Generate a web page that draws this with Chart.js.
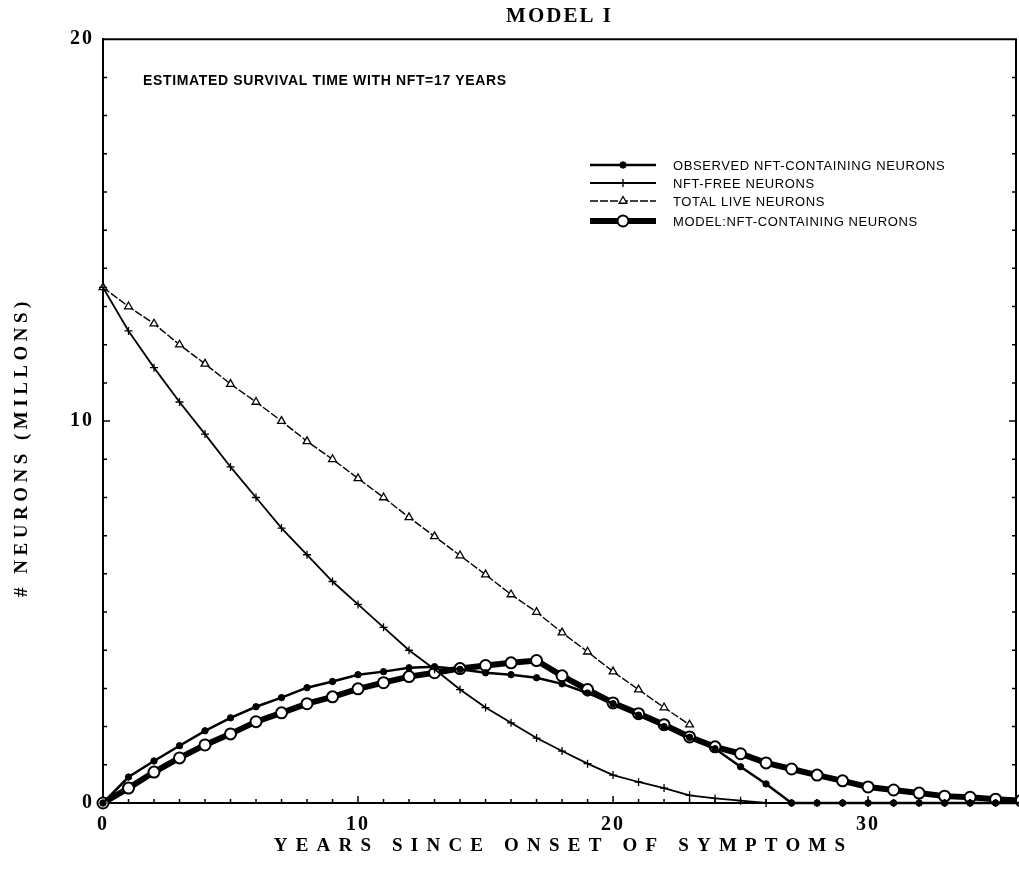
<!DOCTYPE html>
<html>
<head>
<meta charset="utf-8">
<script src="https://cdn.jsdelivr.net/npm/chart.js@4.4.0/dist/chart.umd.min.js"></script>
<style>
body{margin:0;background:#fff;}
#wrap{width:1019px;height:878px;position:relative;}
</style>
</head>
<body>
<div id="wrap"><canvas id="modelChart"></canvas></div>
<script>
// =========================
// DATA
// =========================

const years = [0,1,2,3,4,5,6,7,8,9,10,11,12,13,14,15,16,17,18,19,20,21,22,23,24,25,26,27,28,29,30,31,32,33,34,35,36];

const observedNFT = [0,0.68,1.1,1.5,1.89,2.23,2.52,2.76,3.02,3.18,3.36,3.44,3.54,3.57,3.5,3.41,3.36,3.28,3.12,2.88,2.6,2.3,2.0,1.72,1.42,0.95,0.5,0,0,0,0,0,0,0,0,0,0];

const nftFree = [13.5,12.36,11.4,10.5,9.66,8.8,8.0,7.2,6.5,5.8,5.2,4.6,4.0,3.5,2.97,2.5,2.1,1.7,1.36,1.03,0.73,0.55,0.39,0.2,0.12,0.06,0,0,0,0,0,0,0,0,0,0,0];

const totalLive = [13.5,13.0,12.55,12.0,11.5,10.97,10.5,10.0,9.47,9.0,8.5,8.0,7.48,6.98,6.48,5.98,5.46,5.0,4.46,3.96,3.44,2.97,2.5,2.05];

const modelNFT = [0,0.39,0.81,1.18,1.52,1.81,2.13,2.36,2.6,2.78,2.99,3.15,3.31,3.41,3.52,3.6,3.67,3.73,3.33,2.97,2.62,2.34,2.05,1.73,1.47,1.29,1.05,0.89,0.73,0.58,0.42,0.34,0.26,0.18,0.15,0.1,0.06];

const xTicks = [0,10,20,30];
const yTicks = [0,10,20];

const seriesLabels = [
    "OBSERVED NFT-CONTAINING NEURONS",
    "NFT-FREE NEURONS",
    "TOTAL LIVE NEURONS",
    "MODEL:NFT-CONTAINING NEURONS"
];

const noteText = "ESTIMATED SURVIVAL TIME WITH NFT=17 YEARS";

const toPoints = arr => arr.map((v,i) => ({x:years[i], y:v}));

const serif = "'Liberation Serif','Times New Roman',serif";
const sans = "'Liberation Sans',Arial,sans-serif";

// =========================
// PLUGIN: frame, inner ticks, legend, texts
// =========================

const decorPlugin = {
    id:"decor",
    beforeDraw(chart){
        chart.ctx.letterSpacing = "2px";
    },
    afterDraw(chart){
        const ctx = chart.ctx;
        const a = chart.chartArea;
        const xs = chart.scales.x;
        const ys = chart.scales.y;

        ctx.save();
        ctx.strokeStyle = "#000";
        ctx.lineWidth = 2;
        ctx.beginPath();
        ctx.moveTo(a.left, a.top);
        ctx.lineTo(a.right, a.top);
        ctx.lineTo(a.right, a.bottom);
        ctx.stroke();

        ctx.lineWidth = 1.5;
        for(let v = 1; v < 20; v++){
            const y = ys.getPixelForValue(v);
            const len = v % 10 === 0 ? 7 : 4;
            ctx.beginPath();
            ctx.moveTo(a.left, y); ctx.lineTo(a.left + len, y);
            ctx.moveTo(a.right, y); ctx.lineTo(a.right - len, y);
            ctx.stroke();
        }
        for(let v = 1; v <= 35; v++){
            const x = xs.getPixelForValue(v);
            const len = v % 10 === 0 ? 7 : 4;
            ctx.beginPath();
            ctx.moveTo(x, a.bottom); ctx.lineTo(x, a.bottom - len);
            ctx.stroke();
        }

        // axis titles
        ctx.fillStyle = "#000";
        ctx.textAlign = "center";
        ctx.textBaseline = "middle";
        ctx.font = "bold 19px " + serif;
        ctx.letterSpacing = "8.2px";
        ctx.fillText(xs.options.title.text, (a.left + a.right) / 2 + 4, 846);

        ctx.save();
        ctx.translate(22, 449);
        ctx.rotate(-Math.PI / 2);
        ctx.letterSpacing = "4.5px";
        ctx.fillText(ys.options.title.text, 2, 0);
        ctx.restore();

        // note
        ctx.letterSpacing = "0.65px";
        ctx.textAlign = "left";
        ctx.font = "bold 14px " + sans;
        ctx.fillText(noteText, 143, 81);

        // legend
        ctx.font = "13px " + sans;
        ctx.letterSpacing = "0.6px";
        const rows = [165, 183, 201, 221];
        chart.data.datasets.forEach((ds, i) => {
            const y = rows[i];
            ctx.save();
            ctx.strokeStyle = ds.borderColor;
            ctx.lineWidth = ds.borderWidth;
            ctx.setLineDash(ds.borderDash || []);
            ctx.beginPath();
            ctx.moveTo(590, y); ctx.lineTo(656, y);
            ctx.stroke();
            ctx.setLineDash([]);
            ctx.fillStyle = ds.pointBackgroundColor;
            ctx.strokeStyle = ds.pointBorderColor;
            ctx.lineWidth = ds.pointBorderWidth;
            Chart.helpers.drawPoint(ctx, {
                pointStyle:ds.pointStyle,
                radius:ds.pointRadius,
                rotation:0,
                borderWidth:ds.pointBorderWidth
            }, 623, y);
            ctx.restore();
            ctx.fillStyle = "#000";
            ctx.fillText(ds.label, 673, y + 1);
        });

        ctx.restore();
        ctx.letterSpacing = "0px";
    }
};

// =========================
// CHART
// =========================

new Chart(
document.getElementById("modelChart"),
{
    type:"line",

    data:{
        datasets:[
            {
                label:seriesLabels[0],
                data:toPoints(observedNFT),
                borderColor:"#000",
                borderWidth:2.5,
                pointStyle:"circle",
                pointRadius:3.2,
                pointBackgroundColor:"#000",
                pointBorderColor:"#000",
                pointBorderWidth:1,
                order:0
            },
            {
                label:seriesLabels[1],
                data:toPoints(nftFree),
                borderColor:"#000",
                borderWidth:1.8,
                pointStyle:"cross",
                pointRadius:4,
                pointBackgroundColor:"#000",
                pointBorderColor:"#000",
                pointBorderWidth:1.3,
                order:1
            },
            {
                label:seriesLabels[2],
                data:toPoints(totalLive),
                borderColor:"#000",
                borderWidth:1.4,
                borderDash:[8,2],
                pointStyle:"triangle",
                pointRadius:4.5,
                pointBackgroundColor:"#fff",
                pointBorderColor:"#000",
                pointBorderWidth:1.3,
                order:2
            },
            {
                label:seriesLabels[3],
                data:toPoints(modelNFT),
                borderColor:"#000",
                borderWidth:6,
                pointStyle:"circle",
                pointRadius:5.5,
                pointBackgroundColor:"#fff",
                pointBorderColor:"#000",
                pointBorderWidth:2,
                order:3
            }
        ]
    },

    options:{
        responsive:true,
        maintainAspectRatio:false,
        animation:false,
        clip:false,

        elements:{
            line:{ tension:0 }
        },

        layout:{
            autoPadding:false,
            padding:{ left:0, right:3, top:0, bottom:0 }
        },

        plugins:{
            legend:{ display:false },
            tooltip:{ enabled:false },
            title:{
                display:true,
                text:"MODEL I",
                fullSize:false,
                color:"#000",
                font:{ family:serif, size:21, weight:"bold" },
                padding:{ top:4, bottom:10 }
            }
        },

        scales:{
            x:{
                type:"linear",
                min:0,
                max:35.8,
                afterFit(s){
                    s.height = 75;
                    s.paddingLeft = 0;
                    s.paddingRight = 0;
                },
                afterBuildTicks(s){ s.ticks = xTicks.map(v => ({value:v})); },
                grid:{ display:false, drawTicks:false },
                border:{ display:true, color:"#000", width:2 },
                title:{ display:false, text:"YEARS SINCE ONSET OF SYMPTOMS" },
                ticks:{
                    z:1,
                    padding:10,
                    color:"#000",
                    maxRotation:0,
                    font:{ family:serif, size:20, weight:"bold" }
                }
            },
            y:{
                type:"linear",
                min:0,
                max:20,
                afterFit(s){
                    s.width = 103;
                    s.paddingTop = 0;
                    s.paddingBottom = 0;
                },
                afterBuildTicks(s){ s.ticks = yTicks.map(v => ({value:v})); },
                grid:{ display:false, drawTicks:false },
                border:{ display:true, color:"#000", width:2 },
                title:{ display:false, text:"# NEURONS (MILLONS)" },
                ticks:{
                    z:1,
                    padding:9,
                    color:"#000",
                    font:{ family:serif, size:20, weight:"bold" }
                }
            }
        }
    },

    plugins:[decorPlugin]
});
</script>
</body>
</html>
